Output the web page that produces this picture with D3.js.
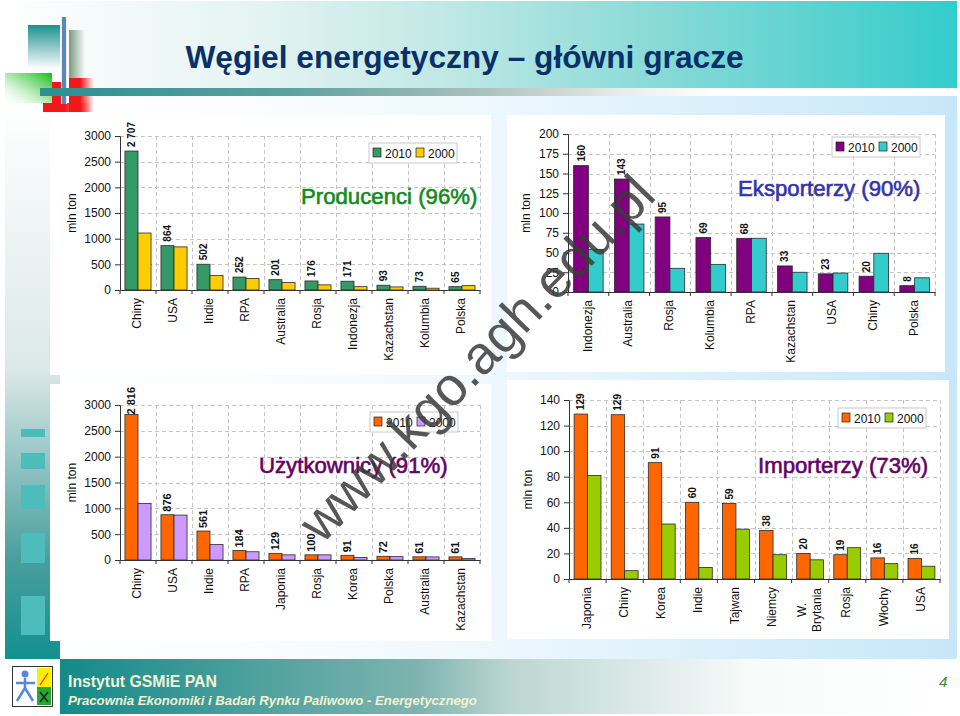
<!DOCTYPE html>
<html><head><meta charset="utf-8">
<script src="https://d3js.org/d3.v7.min.js"></script>
<style>html,body{margin:0;padding:0;background:#fff}svg{display:block;font-family:"Liberation Sans",Arial,sans-serif}</style>
</head><body><svg id="c" width="960" height="716"></svg>
<script>
// ---- data ----
const producersCats=["Chiny","USA","Indie","RPA","Australia","Rosja","Indonezja","Kazachstan","Kolumbia","Polska"];
const producers2010=[2707,864,502,252,201,176,171,93,73,65];
const producers2000=[1110,840,285,225,145,100,65,60,35,85];
const producersLabels=["2 707","864","502","252","201","176","171","93","73","65"];
const exportersCats=["Indonezja","Australia","Rosja","Kolumbia","RPA","Kazachstan","USA","Chiny","Polska"];
const exporters2010=[160,143,95,69,68,33,23,20,8];
const exporters2000=[54,86,30,35,68,25,24,49,18];
const usersCats=["Chiny","USA","Indie","RPA","Japonia","Rosja","Korea","Polska","Australia","Kazachstan"];
const users2010=[2816,876,561,184,129,100,91,72,61,61];
const users2000=[1095,870,300,160,100,100,50,65,60,30];
const usersLabels=["2 816","876","561","184","129","100","91","72","61","61"];
const importersCats=["Japonia","Chiny","Korea","Indie","Tajwan","Niemcy","W. Brytania","Rosja","Włochy","USA"];
const importers2010=[129,128.5,91,60,59,38,20,19,16.5,16];
const importers2000=[81,6.5,43,9,39,19,15,24.5,12,10];
const importersLabels=["129","129","91","60","59","38","20","19","16","16"];
const seriesNames=["2010","2000"];
const ticks3000=[0,500,1000,1500,2000,2500,3000];
const ticks200=[0,25,50,75,100,125,150,175,200];
const ticks140=[0,20,40,60,80,100,120,140];

const svg=d3.select("#c");
const defs=svg.append("defs");
function grad(id,x2,y2,stops,y1){
  const g=defs.append("linearGradient").attr("id",id).attr("x1",0).attr("y1",y1||0).attr("x2",x2).attr("y2",y2);
  stops.forEach(s=>g.append("stop").attr("offset",s[0]).attr("stop-color",s[1]).attr("stop-opacity",s[2]===undefined?1:s[2]));
}
grad("bgH",1,0,[[0,"#ffffff"],[.25,"#fbfdfe"],[.5,"#eef8fe"],[1,"#c6e7f9"]]);
grad("topH",1,0,[[0,"#ffffff"],[.27,"#e4f3f2"],[.47,"#bfe8e5"],[.7,"#85d9d6"],[1,"#34cccb"]]);
grad("bar",1,0,[[0,"#2a9090"],[.35,"#5aa09e"],[.65,"#aec2bc"],[.78,"#d8dcd8"],[1,"#eef6f8",0]]);
grad("left",0,1,[[0,"#ffffff"],[.48,"#dce8e8"],[.82,"#4a9f9e"],[1,"#129090"]]);
grad("foot",1,0,[[0,"#138a88"],[.4,"#7fb4b0"],[.5,"#bcd6d2"],[.77,"#f8fbfa"],[1,"#ffffff"]]);
grad("logoT",0,1,[[0,"#1d9090"],[1,"#1d9090",.03]]);
grad("logoG",1,0,[[0,"#7a9a80"],[1,"#7a9a80",0]]);
grad("logoLb",1,0,[[0,"#ffffff",.2],[.55,"#88dd88",.8],[1,"#18bb18"]],1);
grad("logoR",1,0,[[0,"#f01818"],[.45,"#f01818"],[1,"#f01818",0]]);

const rect=(x,y,w,h,f)=>svg.append("rect").attr("x",x).attr("y",y).attr("width",w).attr("height",h).attr("fill",f);
// background
rect(0,96,957,563,"url(#bgH)");
rect(0,1,957,87,"url(#topH)");
rect(5,100,55,559,"url(#left)");
rect(60,659,900,55,"url(#foot)");
// top-left emblem
rect(28,25,32,42,"url(#logoT)");
rect(69,30,16,48,"url(#logoG)");
rect(5,73,47,30,"url(#logoLb)");
rect(52,82,9,30,"#f01818");
rect(43,103,49,9,"url(#logoR)");
rect(69,78,25,34,"url(#logoR)");
rect(61,17,6,87,"#e8eef4");
rect(62,17,4,87,"#5b86b8");
rect(40,88,690,8,"url(#bar)");
// left squares
[[429,8],[453,16],[485,24],[533,30],[596,39]].forEach(d=>rect(21,d[0],24,d[1],"#4dbdbc"));
// panels
rect(50,115,441,260,"#fff");
rect(507,115,438,257,"#fff");
rect(50,384,441,257,"#fff");
rect(507,380,442,259,"#fff");

// title
svg.append("text").attr("x",464.5).attr("y",68).attr("text-anchor","middle").attr("font-size",31.7).attr("font-weight","bold").attr("fill","#0a3068").text("Węgiel energetyczny – główni gracze");

function chart(o){
  const g=svg.append("g");
  const y=d3.scaleLinear().domain([0,o.max]).range([o.y0,o.y1]);
  const x=d3.scaleBand().domain(o.cats).range([o.x0,o.x1]);
  const sub=d3.scaleBand().domain(seriesNames).range([0,x.bandwidth()]).paddingOuter(.38);
  // grid
  const grid=g.append("g").attr("stroke","#c4c4c4").attr("stroke-dasharray","4 3").attr("stroke-width",1);
  o.ticks.filter(v=>v>0).forEach(v=>grid.append("line").attr("x1",o.x0).attr("x2",o.x1).attr("y1",Math.round(y(v))+.5).attr("y2",Math.round(y(v))+.5));
  o.cats.forEach(c=>{const px=Math.round(x(c)+x.bandwidth())+.5;grid.append("line").attr("x1",px).attr("x2",px).attr("y1",o.y1).attr("y2",o.y0);});
  // bars
  [o.a,o.b].forEach((vals,k)=>{
    g.append("g").selectAll("rect").data(vals).join("rect")
      .attr("x",(d,i)=>x(o.cats[i])+sub(seriesNames[k]))
      .attr("y",d=>y(d)).attr("width",sub.bandwidth()).attr("height",d=>o.y0-y(d))
      .attr("fill",o.colors[k]).attr("stroke","#2a2a2a").attr("stroke-width",.8);
  });
  // axes
  const ay=d3.axisLeft(y).tickValues(o.ticks).tickFormat(d3.format("d")).tickSize(5).tickPadding(4);
  const ag=g.append("g").attr("transform",`translate(${o.x0},0)`).call(ay);
  ag.selectAll("text").attr("font-size",12).attr("fill","#111").attr("font-family","Liberation Sans");
  ag.selectAll("line,path").attr("stroke","#333");
  const ab=d3.axisBottom(x).tickSize(0).tickFormat("");
  const bg=g.append("g").attr("transform",`translate(0,${o.y0})`).call(ab);
  bg.selectAll("path").attr("stroke","#333");
  bg.selectAll("text").remove();
  [o.x0,...o.cats.map(c=>x(c)+x.bandwidth())].forEach(px=>g.append("line").attr("x1",px).attr("x2",px).attr("y1",o.y0).attr("y2",o.y0+4).attr("stroke","#333"));
  // category labels
  o.cats.forEach(c=>{
    const cx=x(c)+x.bandwidth()/2-1;
    const parts=c==="W. Brytania"?["W.","Brytania"]:[c];
    parts.forEach((p,i)=>{
      const px=cx+(parts.length>1?(i-.5)*15:0);
      g.append("text").attr("transform",`translate(${px},${o.y0+8}) rotate(-90)`).attr("text-anchor",parts.length>1?"middle":"end").attr("dy",".35em")
       .attr("dx",parts.length>1?-23:0).attr("font-size",12).attr("fill","#111").text(p);
    });
  });
  // value labels
  o.a.forEach((v,i)=>{
    const c=o.cats[i];
    const off=(o.labelOff||[])[i]===undefined?o.off:o.labelOff[i];
    g.append("text").attr("transform",`translate(${x(c)+sub("2010")+sub.bandwidth()/2},${y(v)-off}) rotate(-90)`)
     .attr("dy",".35em").attr("font-size",o.lsize).attr("font-weight","bold").attr("fill","#111").text(o.labels[i]);
  });
  // y title
  g.append("text").attr("transform",`translate(${o.yTitleX},${(o.y0+o.y1)/2}) rotate(-90)`).attr("text-anchor","middle").attr("dy",".35em").attr("font-size",12).attr("fill","#111").text("mln ton");
  // legend
  const l=g.append("g").attr("transform",`translate(${o.lx},${o.ly})`);
  l.append("rect").attr("width",88).attr("height",20).attr("fill","#fff").attr("stroke","#c8c8c8");
  [4,47].forEach((p,k)=>{
    l.append("rect").attr("x",p).attr("y",5).attr("width",8).attr("height",9).attr("fill",o.colors[k]).attr("stroke","#222").attr("stroke-width",.7);
    l.append("text").attr("x",p+12).attr("y",14.5).attr("font-size",12).attr("fill","#111").text(seriesNames[k]);
  });
  // chart heading
  g.append("text").attr("x",o.tx).attr("y",o.ty).attr("font-size",22.2).attr("fill",o.tcolor).attr("stroke",o.tcolor).attr("stroke-width",.6).text(o.title);
}

chart({cats:producersCats,a:producers2010,b:producers2000,labels:producersLabels,ticks:ticks3000,max:3000,x0:120,x1:480,y0:290,y1:136,colors:["#339966","#FFCC00"],yTitleX:72,lx:369,ly:143,title:"Producenci (96%)",tx:301,ty:204,tcolor:"#128a24",lsize:10,off:4});
chart({cats:exportersCats,a:exporters2010,b:exporters2000,labels:exporters2010.map(String),ticks:ticks200,max:200,x0:568,x1:935,y0:292,y1:134,colors:["#800080","#33CCCC"],yTitleX:526,lx:832,ly:137,title:"Eksporterzy (90%)",tx:738,ty:196,tcolor:"#3333aa",lsize:10,off:4});
chart({cats:usersCats,a:users2010,b:users2000,labels:usersLabels,ticks:ticks3000,max:3000,x0:120,x1:480,y0:560,y1:405,colors:["#FF6600","#CC99FF"],yTitleX:72,lx:370,ly:412,title:"Użytkownicy (91%)",tx:259,ty:473,tcolor:"#660066",lsize:11,off:3,labelOff:[0]});
chart({cats:importersCats,a:importers2010,b:importers2000,labels:importersLabels,ticks:ticks140,max:140,x0:569,x1:940,y0:579,y1:400,colors:["#FF6600","#99CC00"],yTitleX:528,lx:838,ly:408,title:"Importerzy (73%)",tx:758,ty:473,tcolor:"#660066",lsize:10,off:4});

// footer
const logo=svg.append("g");
logo.append("rect").attr("x",12.5).attr("y",666.5).attr("width",40).attr("height",40).attr("fill","#fff").attr("stroke","#333");
logo.append("rect").attr("x",37).attr("y",668).attr("width",14).attr("height",19).attr("fill","#ffee00");
logo.append("rect").attr("x",37).attr("y",687).attr("width",14).attr("height",18).attr("fill","#22aa33");
logo.append("path").attr("d","M25 678v10M16 683h19M25 688l-8 13M25 688l8 13").attr("stroke","#5588dd").attr("stroke-width",2.5).attr("fill","none");
logo.append("circle").attr("cx",25).attr("cy",674).attr("r",3.5).attr("fill","#5588dd");
logo.append("path").attr("d","M40 685l8-12").attr("stroke","#dd3322").attr("stroke-width",1.2);
logo.append("path").attr("d","M40 702l8-10M48 702l-8-10").attr("stroke","#222").attr("stroke-width",1.6);
svg.append("text").attr("x",68).attr("y",687).attr("font-size",15.8).attr("font-weight","bold").attr("fill","#f2f2d8").text("Instytut GSMiE PAN");
svg.append("text").attr("x",68).attr("y",704.5).attr("font-size",13.2).attr("font-weight","bold").attr("font-style","italic").attr("fill","#f2f2d0").text("Pracownia Ekonomiki i Badań Rynku Paliwowo - Energetycznego");
svg.append("text").attr("x",939).attr("y",687).attr("font-size",15).attr("font-style","italic").attr("fill","#2a8a3a").text("4");
// watermark
svg.append("text").attr("transform","translate(322,545) rotate(-46)").attr("font-size",54).attr("fill","#3a3a3a").attr("fill-opacity",.85).text("www.kgo.agh.edu.pl");
</script></body></html>
